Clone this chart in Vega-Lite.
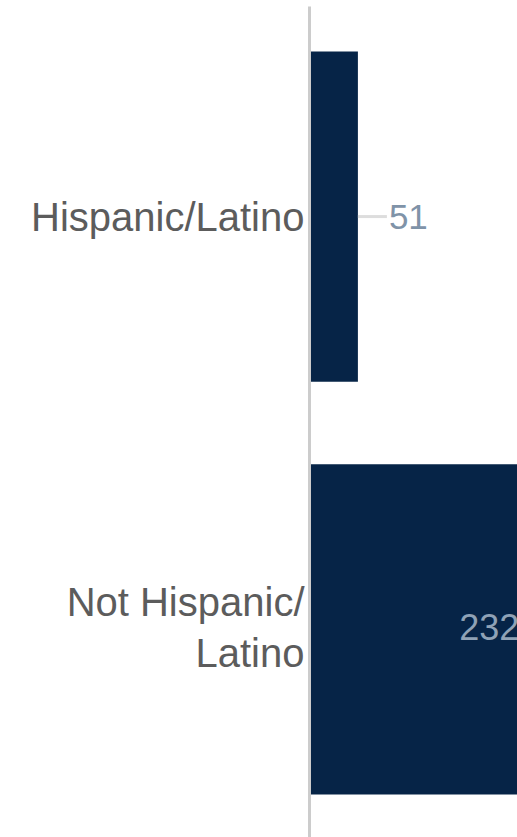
{
  "$schema": "https://vega.github.io/schema/vega-lite/v6.json",
  "autosize": "none",
  "width": 206,
  "height": 834,
  "padding": {"left": 311, "top": 6, "right": 0, "bottom": 0},
  "background": "white",
  "config": {"view": {"stroke": null}, "font": "Liberation Sans"},
  "data": {"values": [
    {"group": "Hispanic/Latino", "count": 51},
    {"group": "Not Hispanic/\nLatino", "count": 232}
  ]},
  "encoding": {
    "y": {"field": "group", "type": "nominal", "sort": null,
      "scale": {"paddingInner": 0.2, "paddingOuter": 0.11},
      "axis": {"title": null, "ticks": false, "domain": true, "domainColor": "#cccccc", "domainWidth": 3, "offset": 2,
        "labelFontSize": 40, "labelColor": "#5c5c5c", "labelPadding": 5, "labelLimit": 400,
        "labelLineHeight": 51,
        "labelOffset": {"condition": {"test": "indexof(datum.label, '\\n') >= 0", "value": -25}, "value": 2},
        "labelExpr": "split(datum.label, '\\n')"}},
    "x": {"field": "count", "type": "quantitative", "scale": {"domain": [0, 224], "nice": false}, "axis": null}
  },
  "layer": [
    {"mark": {"type": "bar", "color": "#062447"}},
    {"transform": [{"filter": "datum.count < 100"}],
     "mark": {"type": "rule", "x2Offset": 29, "color": "#dddddd", "strokeWidth": 3},
     "encoding": {"x2": {"field": "count"}}},
    {"transform": [{"filter": "datum.count < 100"}],
     "mark": {"type": "text", "align": "left", "dx": 31, "dy": 1, "fontSize": 35, "color": "#7f93a8", "baseline": "middle"},
     "encoding": {"text": {"field": "count", "type": "quantitative"}}},
    {"transform": [{"filter": "datum.count >= 100"}],
     "mark": {"type": "text", "align": "right", "dx": -5, "fontSize": 36, "color": "#8fa2b6", "baseline": "middle"},
     "encoding": {"text": {"field": "count", "type": "quantitative"}}}
  ]
}
